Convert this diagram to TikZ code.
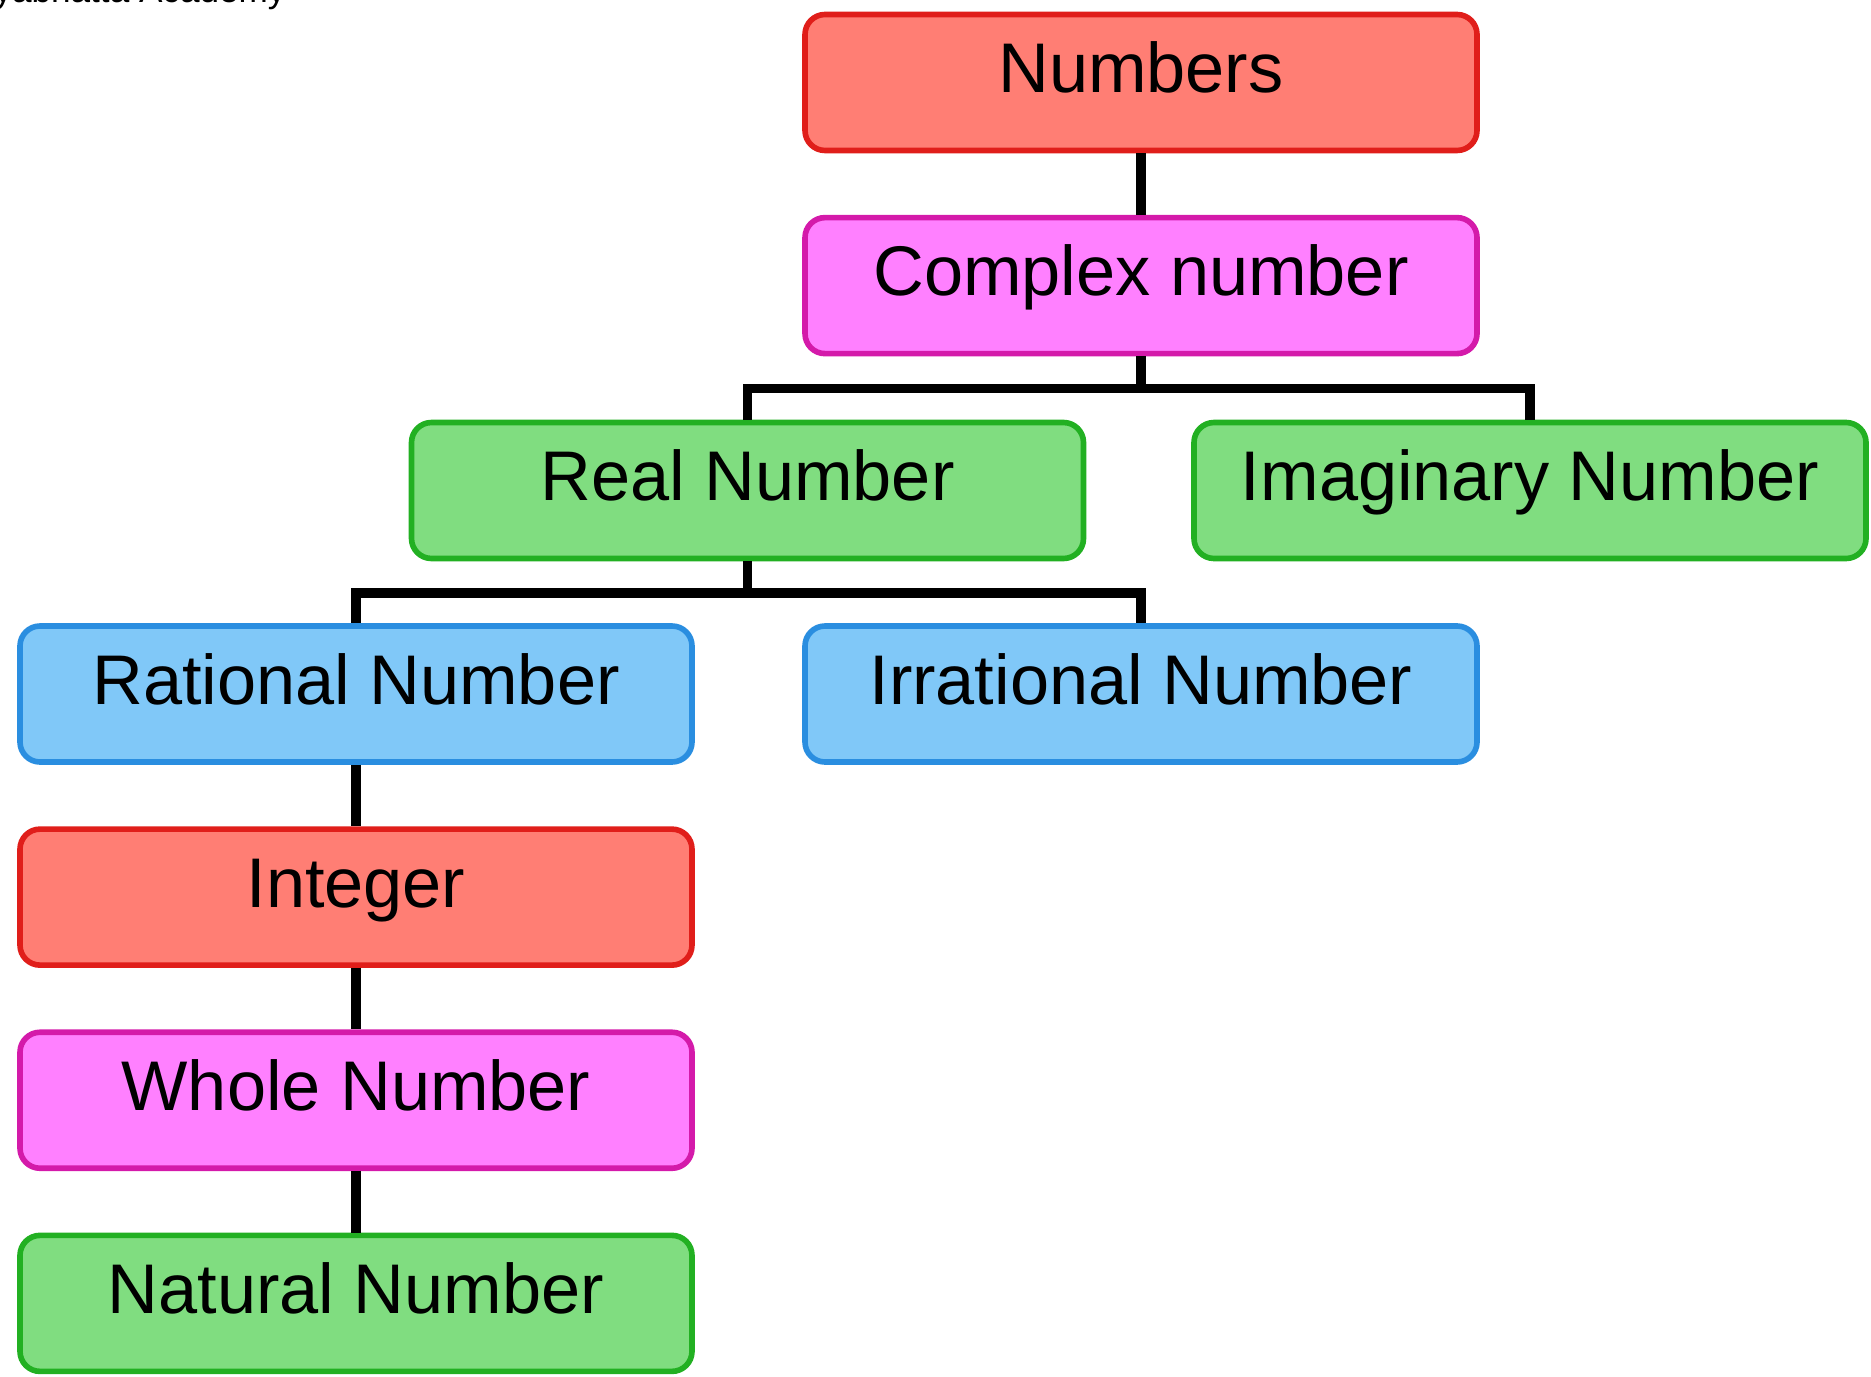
\documentclass[tikz,border=0pt]{standalone}
\usepackage{fontspec}
\setmainfont{Liberation Sans}
\usepackage{xcolor}
\usetikzlibrary{positioning}

\definecolor{redfill}{HTML}{FF7E74}
\definecolor{reddraw}{HTML}{E01E1A}
\definecolor{pinkfill}{HTML}{FF80FF}
\definecolor{pinkdraw}{HTML}{D41AAA}
\definecolor{greenfill}{HTML}{80DD80}
\definecolor{greendraw}{HTML}{22B022}
\definecolor{bluefill}{HTML}{80C8F8}
\definecolor{bluedraw}{HTML}{2A8EE0}

\begin{document}
\begin{tikzpicture}[
    node distance=0.615cm,
    box/.style={rectangle, draw, line width=1.6pt, rounded corners=0.2cm, align=center, minimum width=6.72cm, minimum height=1.36cm, inner sep=0pt, text height=0.6cm, text depth=0.40cm, font=\fontsize{20}{24}\selectfont},
    redbox/.style={box, draw=reddraw, fill=redfill},
    pinkbox/.style={box, draw=pinkdraw, fill=pinkfill},
    greenbox/.style={box, draw=greendraw, fill=greenfill},
    bluebox/.style={box, draw=bluedraw, fill=bluefill},
    link/.style={line width=2.8pt, black}
]
\useasboundingbox (0,0) rectangle (18.71,13.76);
\node[anchor=base east, font=\fontsize{10}{12}\selectfont] (mark) at (2.98,13.735) {yabhatta Academy};

\node[redbox] (numbers) at (11.41,12.935) {Numbers};
\node[pinkbox, below=of numbers] (complex) {Complex number};
\node[greenbox] (real) at (7.475,8.855) {Real Number};
\node[greenbox] (imaginary) at (15.30,8.855) {Imaginary Number};
\node[bluebox] (rational) at (3.56,6.82) {Rational Number};
\node[bluebox] (irrational) at (11.41,6.82) {Irrational Number};
\node[redbox, below=of rational] (integer) {Integer};
\node[pinkbox, below=of integer] (whole) {Whole Number};
\node[greenbox, below=of whole] (natural) {Natural Number};

\draw[link] (numbers) -- (complex);
\draw[link] (complex.south) -- ++(0,-0.32) -| (real.north);
\draw[link] (complex.south) -- ++(0,-0.32) -| (imaginary.north);
\draw[link] (real.south) -- ++(0,-0.315) -| (rational.north);
\draw[link] (real.south) -- ++(0,-0.315) -| (irrational.north);
\draw[link] (rational) -- (integer);
\draw[link] (integer) -- (whole);
\draw[link] (whole) -- (natural);
\end{tikzpicture}
\end{document}
